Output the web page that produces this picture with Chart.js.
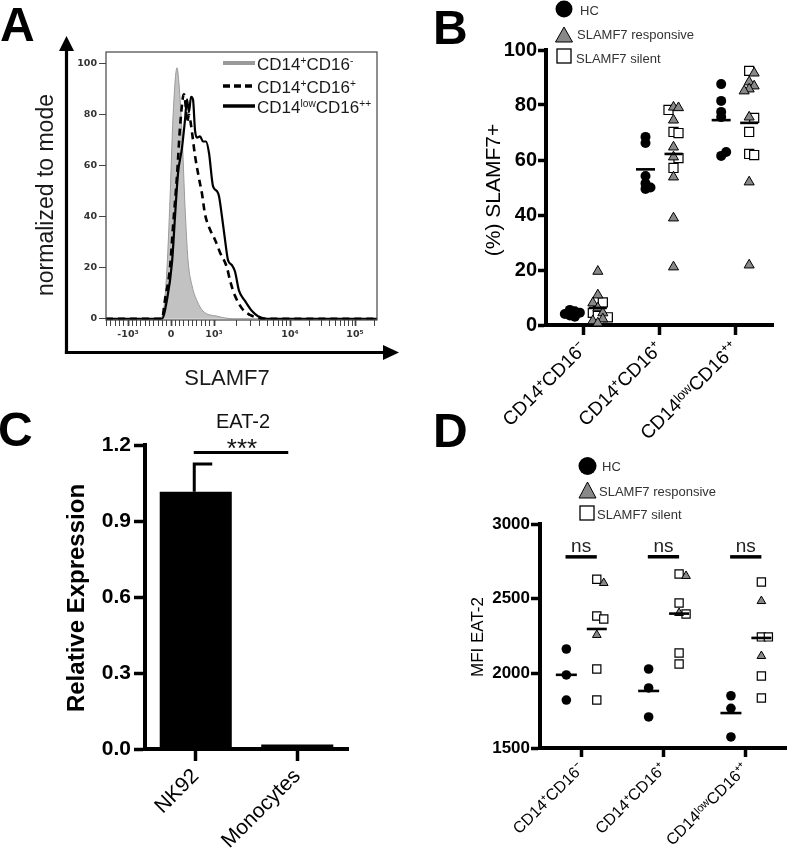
<!DOCTYPE html>
<html>
<head>
<meta charset="utf-8">
<title>SLAMF7 / EAT-2 in monocyte subsets</title>
<script src="https://cdn.jsdelivr.net/npm/chart.js@4.4.1/dist/chart.umd.min.js"></script>
<style>
  html, body { margin:0; padding:0; background:#fff; }
  body { width:800px; height:861px; position:relative; overflow:hidden; font-family:"Liberation Sans", Arial, Helvetica, sans-serif; }
  canvas { position:absolute; }
  .t { position:absolute; white-space:nowrap; line-height:1; color:#000; }
  .c { transform:translate(-50%,-50%); }
  .l { transform:translateY(-50%); }
  .r90 { transform:translate(-50%,-50%) rotate(-90deg); }
  .letter { font-weight:bold; font-size:48px; }
  sup { font-size:0.6em; line-height:0; vertical-align:0.55em; }
  svg { position:absolute; left:0; top:0; }
</style>
</head>
<body>
<canvas id="cA" width="400" height="400" style="left:0;top:0;width:400px;height:400px"></canvas>
<canvas id="cB" width="400" height="460" style="left:400px;top:0;width:400px;height:460px"></canvas>
<canvas id="cC" width="400" height="461" style="left:0;top:400px;width:400px;height:461px"></canvas>
<canvas id="cD" width="400" height="421" style="left:400px;top:440px;width:400px;height:421px"></canvas>

<svg width="800" height="861">
  <!-- Panel A legend keys -->
  <line x1="223" y1="63" x2="255" y2="63" stroke="#9a9a9a" stroke-width="4"/>
  <line x1="223" y1="86" x2="255" y2="86" stroke="#000" stroke-width="3.5" stroke-dasharray="7 4"/>
  <line x1="223" y1="106" x2="255" y2="106" stroke="#000" stroke-width="3.5"/>
  <!-- Panel B legend keys -->
  <circle cx="564" cy="9" r="8.5" fill="#000"/>
  <polygon points="564,27 555.5,42 572.5,42" fill="#888" stroke="#000" stroke-width="1"/>
  <rect x="557" y="49" width="14" height="14" fill="#fff" stroke="#000" stroke-width="1.3"/>
  <!-- Panel D legend keys -->
  <circle cx="587.5" cy="466" r="9" fill="#000"/>
  <polygon points="587.5,482 579,498 596,498" fill="#888" stroke="#000" stroke-width="1"/>
  <rect x="580" y="506" width="14" height="14" fill="#fff" stroke="#000" stroke-width="1.3"/>
</svg>

<div class="t letter" style="left:0;top:1px">A</div>
<div class="t letter" style="left:433px;top:4px">B</div>
<div class="t letter" style="left:-2px;top:406px">C</div>
<div class="t letter" style="left:433px;top:407px">D</div>

<div class="t r90" style="left:45px;top:195px;font-size:23px;color:#1a1a1a">normalized to mode</div>
<div class="t c" style="left:227px;top:378px;font-size:22px;color:#1a1a1a">SLAMF7</div>
<div class="t l" style="left:257px;top:64px;font-size:17px;color:#1a1a1a">CD14<sup>+</sup>CD16<sup>-</sup></div>
<div class="t l" style="left:257px;top:86.5px;font-size:17px;color:#1a1a1a">CD14<sup>+</sup>CD16<sup>+</sup></div>
<div class="t l" style="left:257px;top:107px;font-size:17px;color:#1a1a1a">CD14<sup>low</sup>CD16<sup>++</sup></div>

<div class="t r90" style="left:492px;top:190px;font-size:21px">(%) SLAMF7+</div>
<div class="t l" style="left:580px;top:10px;font-size:13px;color:#333">HC</div>
<div class="t l" style="left:577px;top:34px;font-size:13px;color:#333">SLAMF7 responsive</div>
<div class="t l" style="left:576px;top:58px;font-size:13px;color:#333">SLAMF7 silent</div>

<div class="t r90" style="left:76px;top:598px;font-size:24px;font-weight:bold">Relative Expression</div>

<div class="t r90" style="left:477px;top:637px;font-size:17px">MFI EAT-2</div>
<div class="t l" style="left:602px;top:466px;font-size:13px;color:#333">HC</div>
<div class="t l" style="left:599px;top:491px;font-size:13px;color:#333">SLAMF7 responsive</div>
<div class="t l" style="left:597px;top:514px;font-size:13px;color:#333">SLAMF7 silent</div>

<script>
// ---------------- DATA ----------------
// Panel A: histograms (x = display channel along the biexponential SLAMF7 axis, y = % of mode)
const chGray   = [0, 44, 54, 57, 61, 64, 67, 71, 73, 76, 79, 82, 86, 91, 97, 111, 127, 271];
const yGray    = [0, 0, 0.3, 2, 20, 47, 79, 98.4, 92, 73, 44, 23, 13, 7, 3, 1, 0, 0];
const chDashed = [0, 56, 59, 64, 67, 71, 74, 77, 78, 80, 81, 83, 85, 89, 93, 96, 99, 104, 109, 114, 121, 124, 129, 137, 144, 151, 157, 271];
const yDashed  = [0, 0, 7.5, 20, 36, 56, 75, 87, 88, 82, 77, 80, 76, 64, 55, 49, 41, 35, 31, 26, 20, 15, 9, 3.5, 1.5, 0.4, 0, 0];
const chSolid  = [0, 56, 61, 66, 69, 72, 76, 79, 81, 83, 85, 87, 89, 91, 94, 97, 100, 103, 107, 111, 113, 116, 119, 122, 126, 129, 133, 139, 146, 152, 161, 271];
const ySolid   = [0, 0, 7.5, 22, 40, 57, 67, 78, 86, 81, 87, 86, 74, 71, 71.5, 69.5, 69.5, 65, 52, 50, 48, 40, 31, 23, 21, 18.5, 11, 7, 3, 1, 0, 0];
const aMajorValues = [-1000, 0, 1000, 10000, 100000];
const aMajorLabels = ['-10³', '0', '10³', '10⁴', '10⁵'];
const aYTicks = [0, 20, 40, 60, 80, 100];

// Panel B: % SLAMF7+ per monocyte subset
const subsetLabels = ['CD14⁺CD16⁻', 'CD14⁺CD16⁺', 'CD14ˡᵒʷCD16⁺⁺'];
const hcB      = [[5.5, 5.0, 4.0, 3.5, 4.5, 3.0], [68.4, 66.2, 54.2, 51.5, 50.0, 49.5], [87.6, 81.5, 77.5, 75.6, 61.5, 62.9]];
const respB    = [[19.5, 10.9, 8.0, 6.2, 4.4, 2.2, 0.7, 1.5], [79.2, 79.0, 74.5, 64.7, 61.1, 53.8, 38.9, 21.1], [91.6, 88.4, 85.8, 85.1, 86.9, 75.6, 52.0, 21.8]];
const silentB  = [[8.4, 8.2, 4.4, 3.3, 2.8], [78.2, 69.8, 70.2, 60.7, 57.1], [92.4, 75.3, 70.2, 61.8, 62.2]];
const hcMeanB  = [4.3, 56.6, 74.5];
const patMeanB = [6.2, 62.2, 73.5];
const bYTicks  = [0, 20, 40, 60, 80, 100];

// Panel C: EAT-2 relative expression
const cCategories = ['NK92', 'Monocytes'];
const relExpr     = [1.015, 0.018];
const relErrUpper = [1.125, 0.018];
const sigLevelC   = 1.17;
const cYTicks     = [0, 0.3, 0.6, 0.9, 1.2];

// Panel D: MFI EAT-2 per monocyte subset
const hcD      = [[2163, 1989, 1821], [2029, 1902, 1708], [1850, 1766, 1574]];
const respD    = [[2605, 2257], [2652, 2404], [2484, 2116]];
const silentD  = [[2630, 2384, 2364, 2029, 1821], [2665, 2471, 2397, 2136, 2063], [2612, 2244, 2244, 1982, 1835]];
const hcMeanD  = [1990, 1882, 1734];
const patMeanD = [2297, 2400, 2237];
const nsLevelD = 2780;
const dYTicks  = [1500, 2000, 2500, 3000];

// ---------------- HELPERS ----------------
const FONT = '"Liberation Sans", Arial, Helvetica, sans-serif';
Chart.defaults.font.family = FONT;
Chart.defaults.color = '#000';
Chart.defaults.animation = false;

const zip = (xs, ys) => xs.map((x, i) => ({x, y: ys[i]}));

// approximate biexponential display transform of the cytometry software
function chanOf(v) {
  if (v <= 1000) return 65 + v * 0.043;
  if (v <= 1e4) return 108 + Math.log10(v / 1e3) * 76;
  return 184 + Math.log10(v / 1e4) * 65;
}

// simple column-scatter (beeswarm) layout of overlapping points
function swarmX(vals, center, L) {
  const placed = [];
  return vals.map(v => {
    const py = v * L.pxY;
    for (let k = 0; k < 60; k++) {
      const off = (k === 0 ? 0 : (k % 2 ? 1 : -1) * Math.ceil(k / 2)) * L.step;
      if (placed.every(q => Math.hypot(q.x - off, q.y - py) >= L.minD)) {
        placed.push({x: off, y: py});
        return center + off / L.pxX;
      }
    }
    return center;
  });
}

function scatterSets(hc, resp, sil, hcMean, patMean, L) {
  const hcPts = [], respPts = [], silPts = [];
  hc.forEach((grp, i) => {
    const c = i + 1;
    swarmX(grp, c + L.hcOff, L).forEach((x, j) => hcPts.push({x, y: grp[j]}));
    const pat = resp[i].map(v => ({v, k: 'r'})).concat(sil[i].map(v => ({v, k: 's'}))).sort((a, b) => b.v - a.v);
    const xs = swarmX(pat.map(p => p.v), c + L.patOff, L);
    pat.forEach((p, j) => (p.k === 'r' ? respPts : silPts).push({x: xs[j], y: p.v}));
  });
  const pt = (style, r, bg, bc, bw) => ({pointStyle: style, pointRadius: r, pointHoverRadius: r, pointBackgroundColor: bg, pointBorderColor: bc, pointBorderWidth: bw, backgroundColor: bg, borderColor: bc, clip: false, showLine: false});
  return [
    Object.assign({label: 'HC mean', data: hcMean.map((m, i) => ({x: i + 1 + L.hcOff, y: m}))}, pt('line', L.hcLineR, '#000', '#000', L.lineW)),
    Object.assign({label: 'Patient mean', data: patMean.map((m, i) => ({x: i + 1 + L.patOff, y: m}))}, pt('line', L.patLineR, '#000', '#000', L.lineW)),
    Object.assign({label: 'HC', data: hcPts}, pt('circle', L.rC, '#000', '#000', 0)),
    Object.assign({label: 'SLAMF7 responsive', data: respPts}, pt('triangle', L.rT, '#888888', '#000', 1)),
    Object.assign({label: 'SLAMF7 silent', data: silPts}, pt('rect', L.rS, '#ffffff', '#000', 1.2)),
  ];
}

const fixTicks = arr => (s => { s.ticks = arr.map(v => ({value: v})); });
const axisGrid = (len, w) => ({display: true, drawOnChartArea: false, drawTicks: true, tickLength: len, tickWidth: w, tickColor: '#000', offset: false});

// ---------------- PANEL A ----------------
const frameA = {
  id: 'frameA',
  afterDatasetsDraw(chart) {
    const {ctx, chartArea: a} = chart;
    ctx.save();
    ctx.strokeStyle = '#444'; ctx.lineWidth = 1.2;
    ctx.strokeRect(a.left, a.top, a.right - a.left, a.bottom - a.top);
    // outer arrowed axes
    const ax = a.left - 39.5, ay = a.bottom + 32.5;
    ctx.strokeStyle = '#000'; ctx.fillStyle = '#000'; ctx.lineWidth = 3.2;
    ctx.beginPath(); ctx.moveTo(ax, ay + 1.6); ctx.lineTo(ax, a.top - 2); ctx.stroke();
    ctx.beginPath(); ctx.moveTo(ax - 1.6, ay); ctx.lineTo(a.right + 8, ay); ctx.stroke();
    ctx.beginPath(); ctx.moveTo(ax, a.top - 16); ctx.lineTo(ax - 7.5, a.top - 1); ctx.lineTo(ax + 7.5, a.top - 1); ctx.closePath(); ctx.fill();
    ctx.beginPath(); ctx.moveTo(a.right + 22, ay); ctx.lineTo(a.right + 6, ay - 7.5); ctx.lineTo(a.right + 6, ay + 7.5); ctx.closePath(); ctx.fill();
    ctx.restore();
  }
};

const aTickList = (() => {
  const list = aMajorValues.map((v, i) => ({value: chanOf(v), major: true, lbl: aMajorLabels[i]}));
  for (let v = -1500; v < 1000; v += 100) if (v !== -1000 && v !== 0) list.push({value: chanOf(v), major: false, lbl: ''});
  for (let k = 2; k <= 9; k++) { list.push({value: chanOf(k * 1e3), major: false, lbl: ''}); list.push({value: chanOf(k * 1e4), major: false, lbl: ''}); }
  list.push({value: chanOf(2e5), major: false, lbl: ''});
  return list.filter(t => t.value >= 0 && t.value <= 271).sort((a, b) => a.value - b.value);
})();

const A_TICK_FONT = {family: '"DejaVu Sans", "Liberation Sans", sans-serif', size: 9.5, weight: 'bold'};

new Chart(document.getElementById('cA'), {
  type: 'line',
  data: {
    datasets: [
      {label: 'CD14lowCD16++', data: zip(chSolid, ySolid), borderColor: '#000', borderWidth: 2.2, pointRadius: 0, fill: false, cubicInterpolationMode: 'monotone'},
      {label: 'CD14+CD16+', data: zip(chDashed, yDashed), borderColor: '#000', borderWidth: 2.6, borderDash: [7, 5], pointRadius: 0, fill: false, cubicInterpolationMode: 'monotone'},
      {label: 'CD14+CD16-', data: zip(chGray, yGray), borderColor: '#9a9a9a', borderWidth: 1, backgroundColor: '#c2c2c2', fill: 'origin', pointRadius: 0, cubicInterpolationMode: 'monotone'},
    ]
  },
  options: {
    responsive: false,
    layout: {padding: {left: 0, top: 52, right: 23, bottom: 0}},
    plugins: {legend: {display: false}, tooltip: {enabled: false}},
    scales: {
      x: {
        type: 'linear', min: 0, max: 271,
        afterBuildTicks: s => { s.ticks = aTickList.map(t => Object.assign({}, t)); },
        afterFit: s => { s.height = 80; },
        ticks: {autoSkip: false, maxRotation: 0, minRotation: 0, padding: 3, color: '#333',
                font: A_TICK_FONT, callback: (v, i, ticks) => ticks[i].lbl || ''},
        grid: {display: true, drawOnChartArea: false, tickLength: 6, tickColor: '#444',
               tickWidth: c => (c.tick && c.tick.major) ? 1.8 : 1},
        border: {display: false}
      },
      y: {
        min: -0.5, max: 104.6,
        afterBuildTicks: fixTicks(aYTicks),
        afterFit: s => { s.width = 106; },
        ticks: {padding: 2, color: '#333', font: A_TICK_FONT},
        grid: {display: true, drawOnChartArea: false, tickLength: 7, tickColor: '#444', tickWidth: 1},
        border: {display: false}
      }
    }
  },
  plugins: [frameA]
});

// ---------------- PANEL B ----------------
const layoutB = {pxX: 227 / 3, pxY: 2.75, step: 5, minD: 5, hcOff: -0.185, patOff: 0.185,
                 rC: 5, rT: 5.8, rS: 6.4, hcLineR: 9.5, patLineR: 9, lineW: 2.6};
new Chart(document.getElementById('cB'), {
  type: 'scatter',
  data: {datasets: scatterSets(hcB, respB, silentB, hcMeanB, patMeanB, layoutB)},
  options: {
    responsive: false,
    layout: {padding: {left: 0, top: 50, right: 27, bottom: 0}},
    plugins: {legend: {display: false}, tooltip: {enabled: false}},
    scales: {
      x: {
        type: 'linear', min: 0.5, max: 3.5,
        afterBuildTicks: fixTicks([1, 2, 3]),
        afterFit: s => { s.height = 135; },
        ticks: {autoSkip: false, minRotation: 45, maxRotation: 45, padding: 3, font: {size: 19},
                callback: v => subsetLabels[Math.round(v) - 1]},
        grid: axisGrid(10, 3.5),
        border: {width: 4, color: '#000'}
      },
      y: {
        min: 0, max: 100,
        afterBuildTicks: fixTicks(bYTicks),
        afterFit: s => { s.width = 146; },
        ticks: {padding: 1, font: {size: 20, weight: 'bold'}, callback: v => String(v)},
        grid: axisGrid(8, 3.5),
        border: {width: 4, color: '#000'}
      }
    }
  }
});

// ---------------- PANEL C ----------------
const annotC = {
  id: 'annotC',
  afterDatasetsDraw(chart) {
    const {ctx, scales: {x, y}} = chart;
    ctx.save();
    ctx.strokeStyle = '#000'; ctx.fillStyle = '#000'; ctx.lineWidth = 3;
    relErrUpper.forEach((e, i) => {
      if (e <= relExpr[i]) return;
      const px = x.getPixelForValue(i) - 1.5;
      const top = y.getPixelForValue(e), base = y.getPixelForValue(relExpr[i]);
      ctx.beginPath(); ctx.moveTo(px, base); ctx.lineTo(px, top);
      ctx.moveTo(px - 1.5, top); ctx.lineTo(px + 18, top); ctx.stroke();
    });
    const sy = y.getPixelForValue(sigLevelC);
    const x1 = x.getPixelForValue(0) - 2, x2 = x.getPixelForValue(1) - 9;
    ctx.beginPath(); ctx.moveTo(x1, sy); ctx.lineTo(x2, sy); ctx.stroke();
    const cx = (x1 + x2) / 2 + 1;
    ctx.textAlign = 'center'; ctx.textBaseline = 'alphabetic';
    ctx.font = '26px ' + FONT; ctx.fillStyle = '#111';
    ctx.fillText('***', cx, sy + 4);
    ctx.font = '20px ' + FONT;
    ctx.fillText('EAT-2', cx + 1, sy - 25);
    ctx.restore();
  }
};
new Chart(document.getElementById('cC'), {
  type: 'bar',
  data: {labels: cCategories, datasets: [{label: 'EAT-2', data: relExpr, backgroundColor: '#000', borderWidth: 0, barPercentage: 0.71, categoryPercentage: 1}]},
  options: {
    responsive: false,
    layout: {padding: {left: 0, top: 45, right: 52, bottom: 0}},
    plugins: {legend: {display: false}, tooltip: {enabled: false}},
    scales: {
      x: {
        afterFit: s => { s.height = 112; },
        ticks: {autoSkip: false, minRotation: 45, maxRotation: 45, padding: 3, font: {size: 21}},
        grid: axisGrid(12, 3.5),
        border: {width: 4, color: '#000'}
      },
      y: {
        min: 0, max: 1.2,
        afterBuildTicks: fixTicks(cYTicks),
        afterFit: s => { s.width = 145; },
        ticks: {padding: 3, font: {size: 21, weight: 'bold'}, callback: v => v.toFixed(1)},
        grid: axisGrid(11, 3.5),
        border: {width: 4, color: '#000'}
      }
    }
  },
  plugins: [annotC]
});

// ---------------- PANEL D ----------------
const layoutD = {pxX: 248 / 3, pxY: 224 / 1500, step: 7, minD: 7, hcOff: -0.18, patOff: 0.19,
                 rC: 4.8, rT: 5, rS: 5.8, hcLineR: 10.5, patLineR: 10, lineW: 2.6};
const nsBars = [1, 2, 3].map(c => ({
  label: 'ns', data: [{x: c - 0.19, y: nsLevelD}, {x: c + 0.19, y: nsLevelD}],
  showLine: true, borderColor: '#000', borderWidth: 3.5, pointRadius: 0, clip: false
}));
const nsText = {
  id: 'nsText',
  afterDatasetsDraw(chart) {
    const {ctx, scales: {x, y}} = chart;
    ctx.save();
    ctx.font = '19px ' + FONT; ctx.fillStyle = '#222';
    ctx.textAlign = 'center'; ctx.textBaseline = 'alphabetic';
    [1, 2, 3].forEach(c => ctx.fillText('ns', x.getPixelForValue(c), y.getPixelForValue(nsLevelD) - 5));
    ctx.restore();
  }
};
new Chart(document.getElementById('cD'), {
  type: 'scatter',
  data: {datasets: scatterSets(hcD, respD, silentD, hcMeanD, patMeanD, layoutD).concat(nsBars)},
  options: {
    responsive: false,
    layout: {padding: {left: 0, top: 84, right: 12, bottom: 0}},
    plugins: {legend: {display: false}, tooltip: {enabled: false}},
    scales: {
      x: {
        type: 'linear', min: 0.5, max: 3.5,
        afterBuildTicks: fixTicks([1, 2, 3]),
        afterFit: s => { s.height = 113; },
        ticks: {autoSkip: false, minRotation: 45, maxRotation: 45, padding: 3, font: {size: 16},
                callback: v => subsetLabels[Math.round(v) - 1]},
        grid: axisGrid(9, 3.5),
        border: {width: 4, color: '#000'}
      },
      y: {
        min: 1500, max: 3000,
        afterBuildTicks: fixTicks(dYTicks),
        afterFit: s => { s.width = 140; },
        ticks: {padding: 1, font: {size: 17, weight: 'bold'}, callback: v => String(v)},
        grid: axisGrid(9, 3.5),
        border: {width: 4, color: '#000'}
      }
    }
  },
  plugins: [nsText]
});
</script>
</body>
</html>
